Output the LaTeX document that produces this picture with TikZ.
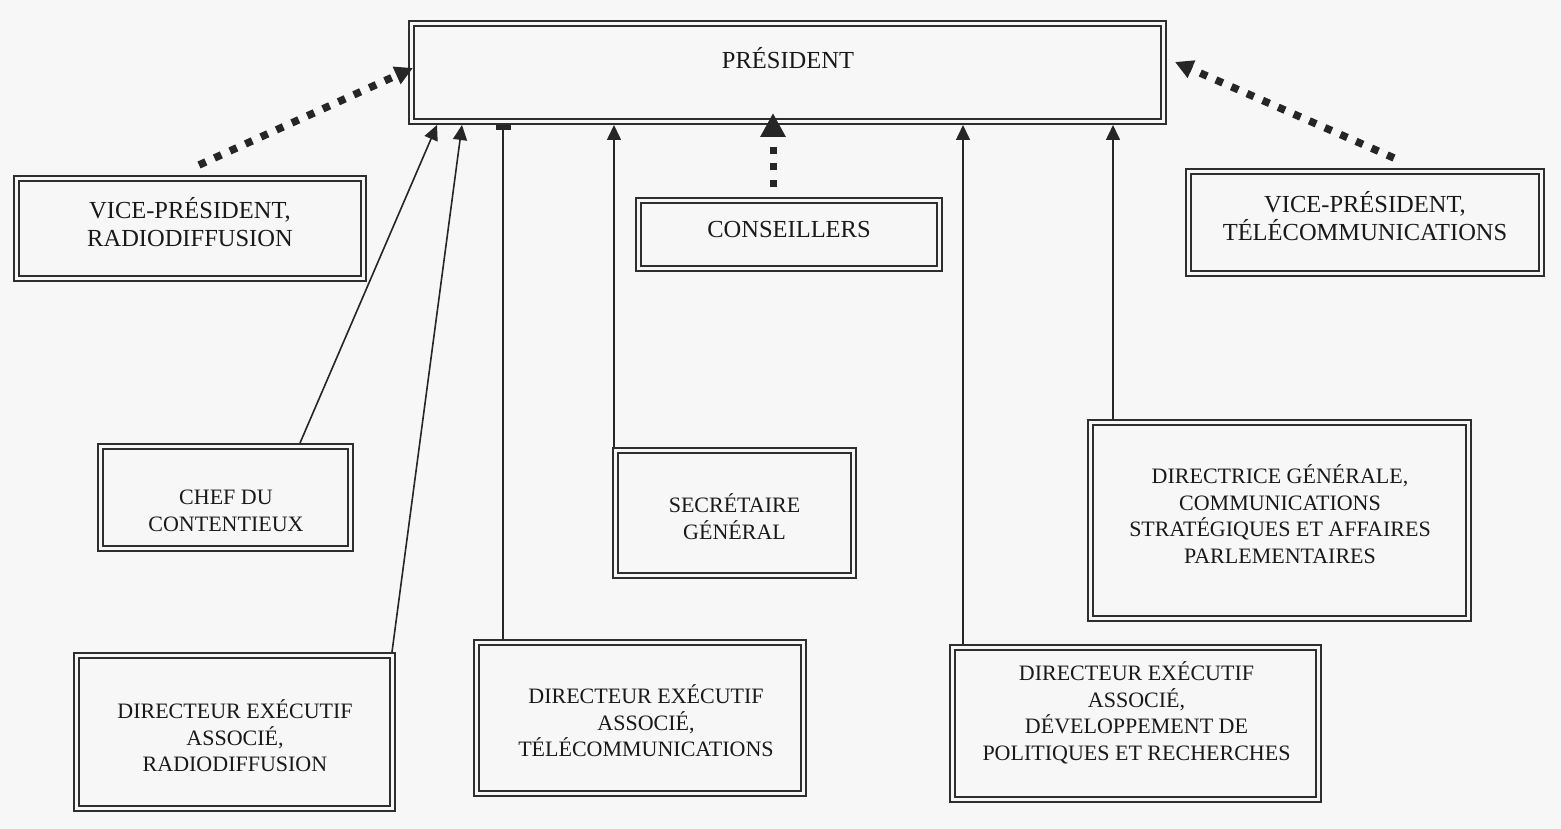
\documentclass[tikz,border=0pt]{standalone}
\usepackage{fontspec}
\setmainfont{Liberation Serif}
\usetikzlibrary{arrows.meta,calc}
\tikzset{
  obox/.style={draw=black!82, line width=2.1pt, double=black!3, double distance=2.6pt,
    outer sep=3.4pt, inner sep=0pt, rectangle},
  smalltxt/.style={align=center, inner sep=0pt, text=black!90,
    font=\fontsize{22}{26.5}\selectfont},
  bigtxt/.style={align=center, inner sep=0pt, text=black!90,
    font=\fontsize{24.5}{28}\selectfont},
  solidarr/.style={draw=black!85, line width=1.6pt, -{Triangle[length=15pt,width=14pt]}},
  bararr/.style={draw=black!85, line width=1.6pt, -{Rectangle[length=5pt,width=15pt]}},
  dotarr/.style={draw=black!85, line width=7.5pt, dash pattern=on 7.5pt off 9.5pt,
    -{Triangle[length=18pt,width=18pt]}},
  bigdotarr/.style={draw=black!85, line width=7pt, dash pattern=on 7pt off 9.5pt,
    -{Triangle[length=24pt,width=24pt]}},
}
\begin{document}
\begin{tikzpicture}[x=1pt,y=-1pt]
\fill[black!3] (0,0) rectangle (1561,829);
\useasboundingbox (0,0) rectangle (1561,829);

% boxes (outer sizes minus 6.8)
\node[obox, minimum width=752.2pt, minimum height=98.2pt] (pres) at (787.5,72.5) {};
\node[obox, minimum width=347.2pt, minimum height=100.2pt] (vpr) at (190,228.5) {};
\node[obox, minimum width=353.2pt, minimum height=102.2pt] (vpt) at (1365,222.5) {};
\node[obox, minimum width=301.2pt, minimum height=68.2pt] (cons) at (789,234.5) {};
\node[obox, minimum width=250.2pt, minimum height=102.2pt] (chef) at (225.5,497.5) {};
\node[obox, minimum width=238.2pt, minimum height=125.2pt] (secr) at (734.5,513) {};
\node[obox, minimum width=378.2pt, minimum height=196.2pt] (dirg) at (1279.5,520.5) {};
\node[obox, minimum width=316.2pt, minimum height=153.2pt] (der) at (234.5,732) {};
\node[obox, minimum width=327.2pt, minimum height=151.2pt] (det) at (640,718) {};
\node[obox, minimum width=366.2pt, minimum height=152.2pt] (ded) at (1135.5,723.5) {};

% texts
\node[bigtxt] (tpres) at (788,58) {PRÉSIDENT};
\node[bigtxt] (tvpr) at (190,222) {VICE-PRÉSIDENT,\\RADIODIFFUSION};
\node[bigtxt] (tvpt) at (1365,216) {VICE-PRÉSIDENT,\\TÉLÉCOMMUNICATIONS};
\node[bigtxt] (tcons) at (789,230) {CONSEILLERS};
\node[smalltxt] (tchef) at (226,511) {CHEF DU\\CONTENTIEUX};
\node[smalltxt] (tsecr) at (734.5,516.5) {SECRÉTAIRE\\GÉNÉRAL};
\node[smalltxt] (tdirg) at (1280,514) {DIRECTRICE GÉNÉRALE,\\COMMUNICATIONS\\STRATÉGIQUES ET AFFAIRES\\PARLEMENTAIRES};
\node[smalltxt] (tder) at (235,736) {DIRECTEUR EXÉCUTIF\\ASSOCIÉ,\\RADIODIFFUSION};
\node[smalltxt] (tdet) at (646,721) {DIRECTEUR EXÉCUTIF\\ASSOCIÉ,\\TÉLÉCOMMUNICATIONS};
\node[smalltxt] (tded) at (1136.5,713) {DIRECTEUR EXÉCUTIF\\ASSOCIÉ,\\DÉVELOPPEMENT DE\\POLITIQUES ET RECHERCHES};

% solid connectors
\draw[solidarr] (chef.north -| 300,0) -- (pres.south -| 437,0);
\draw[solidarr] (der.north -| 392,0) -- (pres.south -| 462,0);
\draw[bararr] (det.north -| 503,0) -- (pres.south -| 503,0);
\draw[solidarr] (secr.north -| 614,0) -- (pres.south -| 614,0);
\draw[solidarr] (ded.north -| 963,0) -- (pres.south -| 963,0);
\draw[solidarr] (dirg.north -| 1113,0) -- (pres.south -| 1113,0);

% dotted connectors
\draw[bigdotarr] ($(cons.north)+(-16,-10)$) -- ($(pres.south -| 773,0)+(0,-12)$);
\draw[dotarr] ($(vpr.north)+(9,-10)$) -- ($(pres.west)+(5,-4.5)$);
\draw[dotarr] ($(vpt.north)+(29,-10)$) -- ($(pres.east)+(8,-10.5)$);
\end{tikzpicture}
\end{document}
